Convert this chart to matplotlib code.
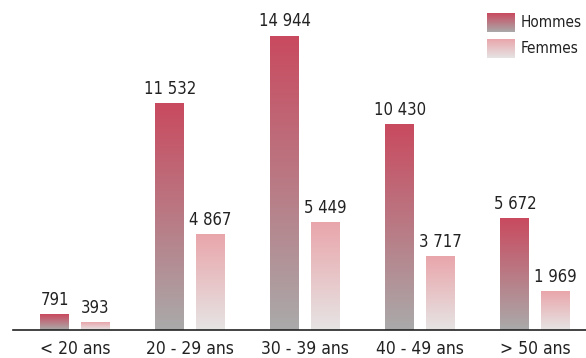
import matplotlib
matplotlib.use("Agg")
import matplotlib.pyplot as plt
import numpy as np
from matplotlib.colors import LinearSegmentedColormap
from matplotlib import font_manager

categories = ["< 20 ans", "20 - 29 ans", "30 - 39 ans", "40 - 49 ans", "> 50 ans"]
hommes = [791, 11532, 14944, 10430, 5672]
femmes = [393, 4867, 5449, 3717, 1969]
labels_h = ["791", "11 532", "14 944", "10 430", "5 672"]
labels_f = ["393", "4 867", "5 449", "3 717", "1 969"]

# prefer a condensed face if one is installed, else plain Liberation Sans
font, stretch, scale = "Liberation Sans", "normal", 0.96
for f in font_manager.fontManager.ttflist:
    if "Narrow" in f.name or "Condensed" in f.name:
        font, stretch, scale = f.name, "normal", 1.0
        break
    if f.stretch in ("condensed", "semi-condensed") and f.weight in (400, "normal", "regular"):
        font, stretch, scale = f.name, f.stretch, 1.0
        break
plt.rcParams["font.family"] = [font, "DejaVu Sans"]
plt.rcParams["font.stretch"] = stretch

cmap_h = LinearSegmentedColormap.from_list("h", ["#aaaaaa", "#c94a5f"])
cmap_f = LinearSegmentedColormap.from_list("f", ["#e6e4e4", "#e9a6ab"])
grad = np.linspace(0, 1, 256).reshape(-1, 1)

W, H = 586, 358
fig = plt.figure(figsize=(W / 100, H / 100), dpi=100)
ax = fig.add_axes([13 / W, 28 / H, 573 / W, 330 / H])

width = 0.252
off = 0.175


def grad_bar(x, h, cmap):
    ax.imshow(grad, cmap=cmap, origin="lower", aspect="auto",
              extent=(x - width / 2, x + width / 2, 0, h), zorder=2)


for i, (h, f) in enumerate(zip(hommes, femmes)):
    grad_bar(i - off, h, cmap_h)
    grad_bar(i + off, f, cmap_f)
    ax.text(i - off, h + 280, labels_h[i], ha="center", va="bottom",
            fontsize=12 * scale, color="#222222")
    ax.text(i + off, f + 280, labels_f[i], ha="center", va="bottom",
            fontsize=12 * scale, color="#222222")

ax.set_xlim(-0.539, 4.443)
ax.set_ylim(0, 16774)
ax.set_aspect("auto")

for s in ["top", "right", "left"]:
    ax.spines[s].set_visible(False)
ax.spines["bottom"].set_color("#222222")
ax.spines["bottom"].set_linewidth(1.2)
ax.set_yticks([])
ax.set_xticks(range(len(categories)))
ax.set_xticklabels(categories, fontsize=12.5 * scale, color="#222222")
ax.tick_params(axis="x", length=0, pad=7)

# legend with gradient swatches
for k, (name, cmap) in enumerate([("Hommes", cmap_h), ("Femmes", cmap_f)]):
    y0 = 1 - (13 + 26 * k) / H
    lax = fig.add_axes([487 / W, y0 - 19 / H, 28 / W, 19 / H])
    lax.imshow(grad, cmap=cmap, origin="lower", aspect="auto")
    lax.axis("off")
    fig.text(521 / W, y0 - 9.5 / H, name, ha="left", va="center",
             fontsize=11 * scale, color="#222222")

fig.savefig("out.png", dpi=100)
